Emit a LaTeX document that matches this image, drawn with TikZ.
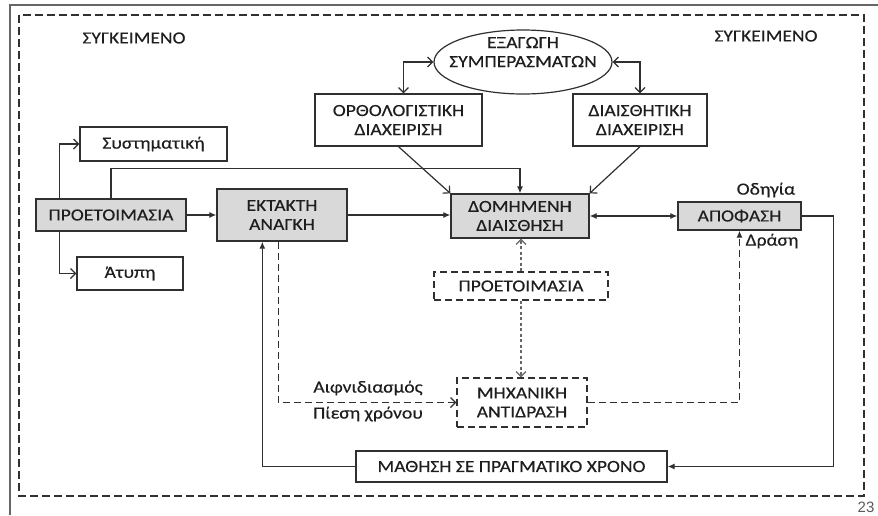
\documentclass[tikz,border=0pt]{standalone}
\usepackage{fontspec}
\setmainfont{Carlito}[FakeStretch=1.15, RawFeature={embolden=0.4}]
\newfontfamily\selidafont{Liberation Sans}
\usepackage{tikz}
\usetikzlibrary{arrows.meta,positioning}
\usetikzlibrary{calc,shapes.geometric}
\definecolor{gkri}{HTML}{D9D9D9}
\definecolor{grammi}{HTML}{303030}
\definecolor{keimeno}{HTML}{1E1E1E}
\tikzset{
	%Define standard arrow tip
	>={Latex[length=7pt,width=6pt]},
	%Define style for texts
	etiketa/.style={text=keimeno, font=\fontsize{17}{19}\selectfont, inner sep=0pt},
	%Define style for boxes
	kouti/.style={
		rectangle,
		draw=grammi, line width=1.3pt,
		inner sep=0pt,
		align=center,
		text=keimeno,
		font=\fontsize{17}{19}\selectfont},
	gkrikouti/.style={kouti, fill=gkri},
	diakekom/.style={kouti, dash pattern=on 7pt off 4pt},
	% Define arrow styles
	velos/.style={->, draw=grammi, line width=1.2pt},
	avelos/.style={-{Straight Barb[length=5pt,width=10pt]}, draw=grammi, line width=1.2pt},
	diplovelos/.style={{Straight Barb[length=5pt,width=10pt]}-{Straight Barb[length=5pt,width=10pt]}, draw=grammi, line width=1.2pt}
}
\begin{document}
\begin{tikzpicture}[x=1pt, y=-1pt]
		\useasboundingbox (0,0) rectangle (878,515);
		% frame of the slide
		\draw[draw=gray!80!black, line width=2pt] (10,515) -- (10,5) -- (878,5);
		\draw[draw=grammi, line width=1.5pt, dash pattern=on 8pt off 4pt] (19,15) rectangle (864,496);
		% node context labels
		\node[etiketa] (keim1) at (134,38) {ΣΥΓΚΕΙΜΕΝΟ};
		\node[etiketa] (keim2) at (766,36) {ΣΥΓΚΕΙΜΕΝΟ};
		% node Συστηματική
		\node[kouti, minimum width=147pt, minimum height=34pt] (syst) at (153.5,144) {Συστηματική};
		% node ΠΡΟΕΤΟΙΜΑΣΙΑ
		\node[gkrikouti, minimum width=150pt, minimum height=32pt] (prep) at (111,215) {ΠΡΟΕΤΟΙΜΑΣΙΑ};
		% node Άτυπη
		\node[kouti, minimum width=106pt, minimum height=33pt] (atyp) at (130,273.5) {Άτυπη};
		% node ΕΚΤΑΚΤΗ ΑΝΑΓΚΗ
		\node[gkrikouti, minimum width=130pt, minimum height=52pt] (ekt) at (282,215) {ΕΚΤΑΚΤΗ\\ΑΝΑΓΚΗ};
		% node ΔΟΜΗΜΕΝΗ ΔΙΑΙΣΘΗΣΗ
		\node[gkrikouti, minimum width=138pt, minimum height=44pt] (domi) at (520,216) {ΔΟΜΗΜΕΝΗ\\ΔΙΑΙΣΘΗΣΗ};
		% node ΑΠΟΦΑΣΗ
		\node[gkrikouti, minimum width=123pt, minimum height=28pt] (apof) at (739.5,216) {ΑΠΟΦΑΣΗ};
		% node ΟΡΘΟΛΟΓΙΣΤΙΚΗ ΔΙΑΧΕΙΡΙΣΗ
		\node[kouti, minimum width=167pt, minimum height=52pt] (orth) at (398.5,120) {ΟΡΘΟΛΟΓΙΣΤΙΚΗ\\ΔΙΑΧΕΙΡΙΣΗ};
		% node ΔΙΑΙΣΘΗΤΙΚΗ ΔΙΑΧΕΙΡΙΣΗ
		\node[kouti, minimum width=134pt, minimum height=52pt] (diai) at (640,120) {ΔΙΑΙΣΘΗΤΙΚΗ\\ΔΙΑΧΕΙΡΙΣΗ};
		% node ΕΞΑΓΩΓΗ ΣΥΜΠΕΡΑΣΜΑΤΩΝ
		\node[ellipse, draw=grammi, line width=1.2pt, minimum width=178pt, minimum height=64pt,
			label={[etiketa, align=center, yshift=10pt]center:ΕΞΑΓΩΓΗ\\ΣΥΜΠΕΡΑΣΜΑΤΩΝ}] (exag) at (523,62) {};
		% node ΠΡΟΕΤΟΙΜΑΣΙΑ (dashed)
		\node[diakekom, minimum width=174pt, minimum height=28pt] (prep2) at (521,286) {ΠΡΟΕΤΟΙΜΑΣΙΑ};
		% node ΜΗΧΑΝΙΚΗ ΑΝΤΙΔΡΑΣΗ
		\node[diakekom, minimum width=130pt, minimum height=49pt] (mech) at (522,402.5) {ΜΗΧΑΝΙΚΗ\\ΑΝΤΙΔΡΑΣΗ};
		% node ΜΑΘΗΣΗ ΣΕ ΠΡΑΓΜΑΤΙΚΟ ΧΡΟΝΟ
		\node[kouti, minimum width=311pt, minimum height=31pt] (math) at (511.5,466.5) {ΜΑΘΗΣΗ ΣΕ ΠΡΑΓΜΑΤΙΚΟ ΧΡΟΝΟ};
		% small labels
		\node[etiketa] (odig) at (766,190) {Οδηγία};
		\node[etiketa] (dras) at (772,241) {Δράση};
		\node[etiketa] (aifn) at (368,388) {Αιφνιδιασμός};
		\node[etiketa] (pies) at (368,414) {Πίεση χρόνου};
		% page number
		\node[text=gray!70!black, font=\selidafont\fontsize{15}{15}\selectfont, inner sep=0pt] (selida) at (866,507) {23};
		\draw[avelos]   ($(prep.north west)+(24,0)$) |- (syst.west);
		\draw[avelos]   ($(prep.south west)+(24,0)$) |- (atyp.west);
		\draw[velos]    (prep.north) -- ++(0,-30) -| (domi.north);
		\draw[velos]    (prep.east) -- (ekt.west);
		\draw[velos]    (ekt.east) -- (ekt.east -| domi.west);
		\draw[<->, draw=grammi, line width=1.2pt]  (domi.east) -- (apof.west);
		\draw[diplovelos]  (exag.west) -| ($(orth.north)+(5,0)$);
		\draw[diplovelos]  (exag.east) -| (diai.north);
		\draw[avelos]   (orth.south) -- (domi.north west);
		\draw[avelos]   (diai.south) -- (domi.north east);
		\draw[velos]    (apof.east) -- ++(32,0) |- (math.east);
		\draw[velos]    (math.west) -| ($(ekt.south west)+(46,0)$);
		\draw[avelos, dash pattern=on 7pt off 4pt]  ($(ekt.south west)+(62,0)$) |- (mech.west);
		\draw[velos, dash pattern=on 7pt off 4pt]   (mech.east) -| (apof.south);
		\draw[avelos, dash pattern=on 3pt off 2.5pt, draw=gray!80!black]  (prep2.north) -- (prep2.north |- domi.south);
		\draw[avelos, dash pattern=on 3pt off 2.5pt, draw=gray!80!black]  (prep2.south) -- (prep2.south |- mech.north);
	\end{tikzpicture}
\end{document}
